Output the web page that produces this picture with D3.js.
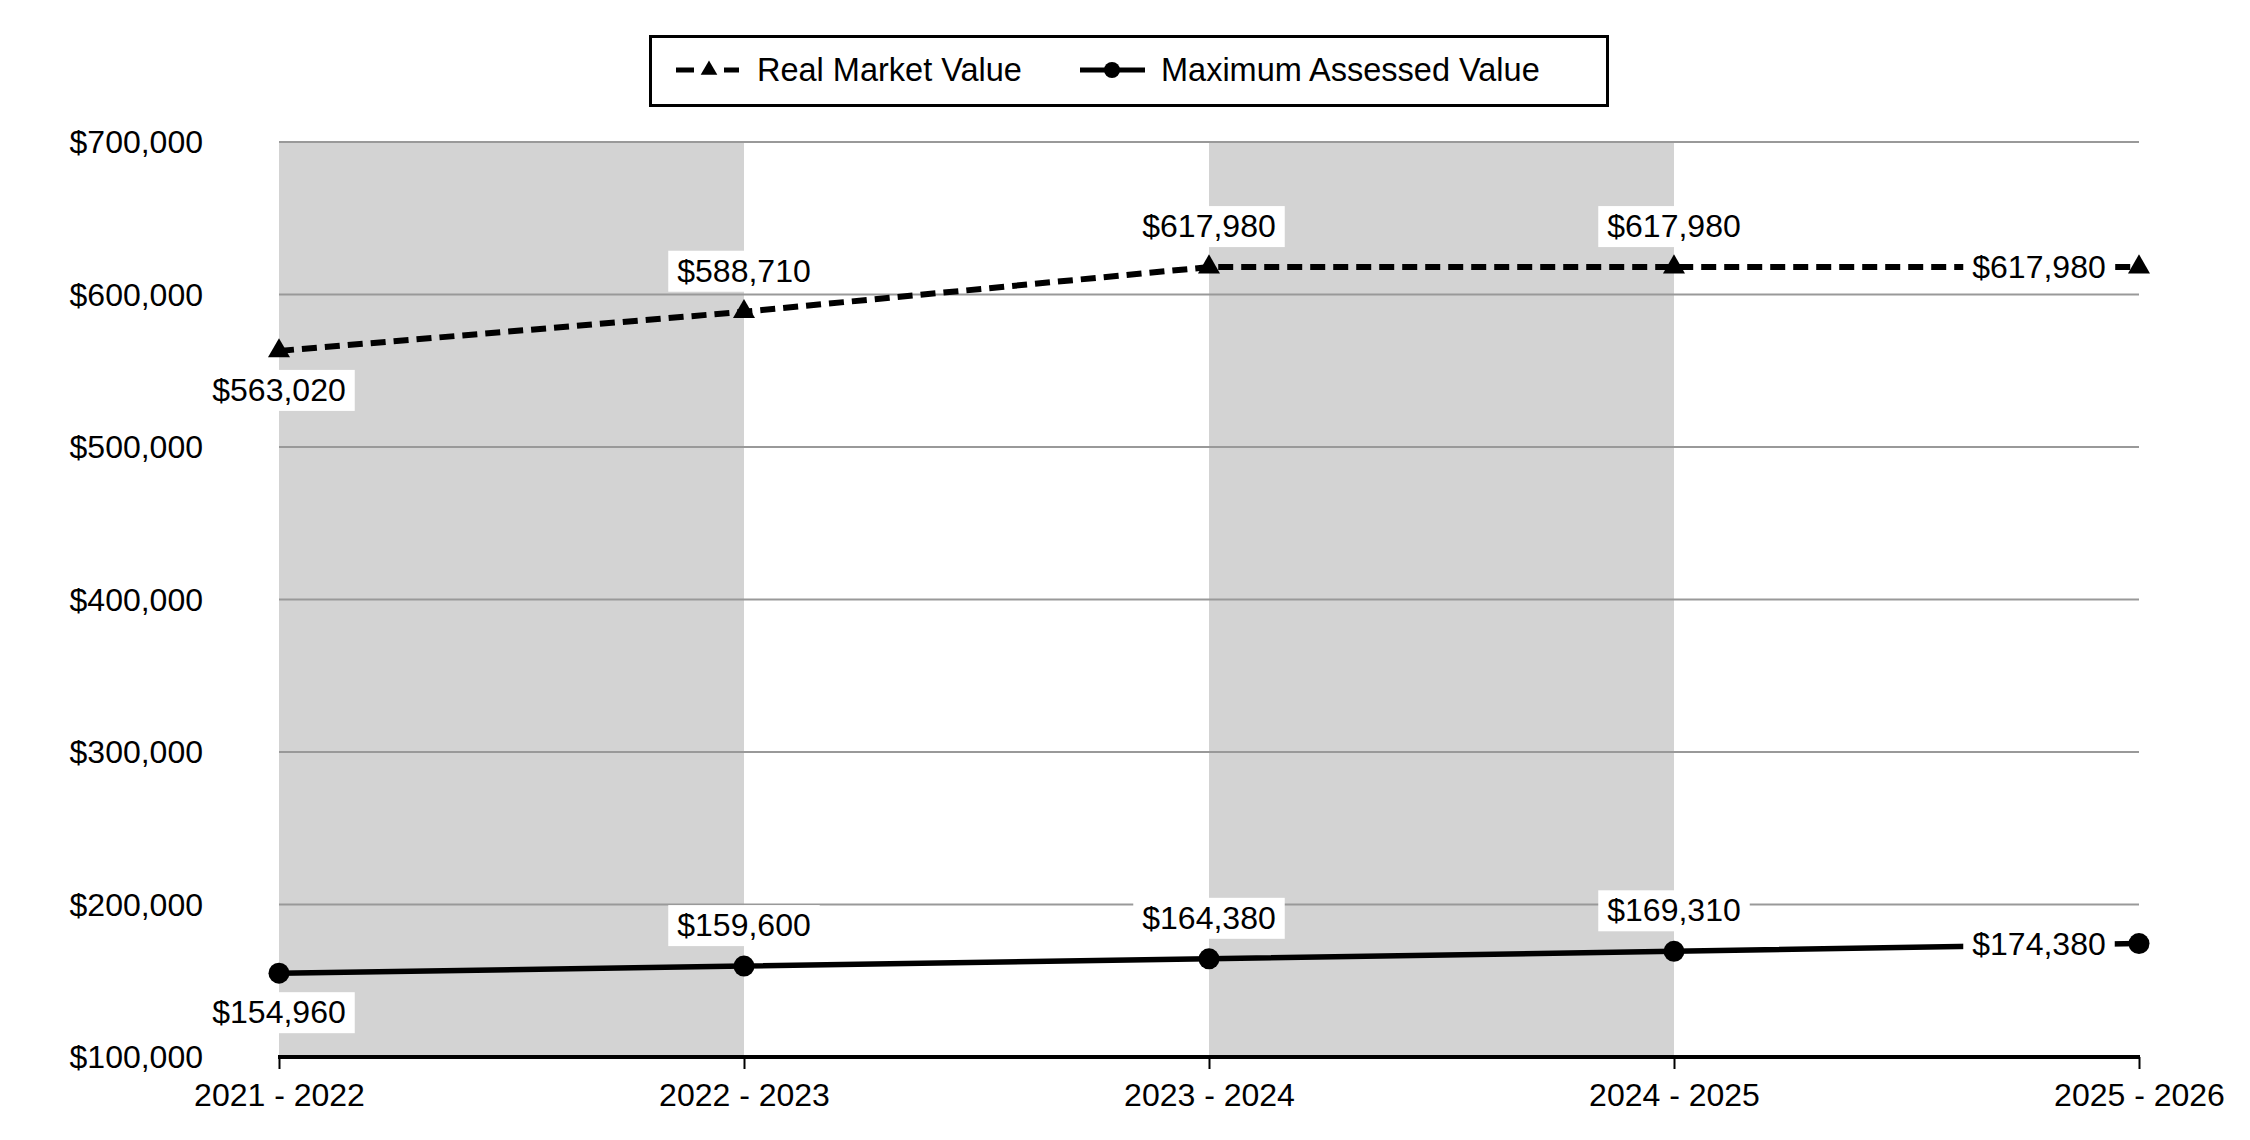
<!DOCTYPE html>
<html>
<head>
<meta charset="utf-8">
<script src="https://cdn.jsdelivr.net/npm/d3@7"></script>
<style>
  body { margin: 0; background: #fff; }
  text { font-family: "Liberation Sans", Arial, sans-serif; font-size: 32px; fill: #000; }
</style>
</head>
<body>
<div id="chart"></div>
<script>
// chart data
var years = ["2021 - 2022", "2022 - 2023", "2023 - 2024", "2024 - 2025", "2025 - 2026"];
var realMarket = [563020, 588710, 617980, 617980, 617980];
var maxAssessed = [154960, 159600, 164380, 169310, 174380];
var yTicks = [100000, 200000, 300000, 400000, 500000, 600000, 700000];
var seriesNames = ["Real Market Value", "Maximum Assessed Value"];

// where each point label sits
var labelSpots = ["below", "above", "above", "above", "left"];

var svg = d3.select("#chart").append("svg")
    .attr("width", 2250)
    .attr("height", 1140);

var x = d3.scalePoint().domain(years).range([279, 2139]);
var y = d3.scaleLinear().domain([100000, 700000]).range([1057, 142]);
var step = x.step();
var fmt = d3.format("$,");

// alternating shaded bands
svg.selectAll("rect.band")
    .data(years.slice(0, 4).filter(function (d, i) { return i % 2 == 0; }))
    .enter()
    .append("rect")
    .attr("class", "band")
    .attr("x", function (d) { return x(d); })
    .attr("y", y(700000))
    .attr("width", step)
    .attr("height", y(100000) - y(700000))
    .attr("fill", "#d3d3d3");

// gridlines
svg.selectAll("line.grid")
    .data(yTicks.slice(1))
    .enter()
    .append("line")
    .attr("class", "grid")
    .attr("x1", x(years[0]))
    .attr("x2", x(years[years.length - 1]))
    .attr("y1", function (d) { return y(d); })
    .attr("y2", function (d) { return y(d); })
    .attr("stroke", "#999")
    .attr("stroke-width", 2);

// y axis labels
svg.selectAll("text.ylab")
    .data(yTicks)
    .enter()
    .append("text")
    .attr("class", "ylab")
    .attr("x", 203)
    .attr("y", function (d) { return y(d); })
    .attr("dy", "0.35em")
    .attr("text-anchor", "end")
    .text(function (d) { return fmt(d); });

// x axis
var xAxis = svg.append("g")
    .attr("transform", "translate(0," + y(100000) + ")")
    .call(d3.axisBottom(x).tickSize(12).tickPadding(14));
xAxis.select(".domain").remove();
xAxis.selectAll(".tick line").attr("stroke", "#000").attr("stroke-width", 2);
xAxis.selectAll(".tick text")
    .style("font-family", "Liberation Sans, Arial, sans-serif")
    .style("font-size", "32px")
    .attr("fill", "#000");
svg.append("line")
    .attr("x1", x(years[0]) - 1)
    .attr("x2", x(years[years.length - 1]) + 1)
    .attr("y1", y(100000))
    .attr("y2", y(100000))
    .attr("stroke", "#000")
    .attr("stroke-width", 4);

// lines
var line = d3.line()
    .x(function (d, i) { return x(years[i]); })
    .y(function (d) { return y(d); });

svg.append("path")
    .attr("d", line(realMarket))
    .attr("fill", "none")
    .attr("stroke", "#000")
    .attr("stroke-width", 6)
    .attr("stroke-dasharray", "15,8");

svg.append("path")
    .attr("d", line(maxAssessed))
    .attr("fill", "none")
    .attr("stroke", "#000")
    .attr("stroke-width", 5.5);

// point labels with white boxes
function addLabels(values) {
    var g = svg.append("g");
    values.forEach(function (v, i) {
        var px = x(years[i]), py = y(v);
        var spot = labelSpots[i];
        var tx = px, base, boxTop;
        if (spot == "above") { base = py - 30; boxTop = py - 61; }
        else if (spot == "below") { base = py + 50; boxTop = py + 19; }
        else { tx = px - 100; base = py + 11; boxTop = py - 20; }
        var box = g.append("rect").attr("fill", "#fff");
        var t = g.append("text")
            .attr("x", tx)
            .attr("y", base)
            .attr("text-anchor", "middle")
            .text(fmt(v));
        var w = t.node().getComputedTextLength() + 18;
        box.attr("x", tx - w / 2).attr("y", boxTop).attr("width", w).attr("height", 41);
    });
}
addLabels(realMarket);
addLabels(maxAssessed);

// markers
var tri = d3.symbol().type(d3.symbolTriangle).size(210);
svg.selectAll("path.tri")
    .data(realMarket)
    .enter()
    .append("path")
    .attr("class", "tri")
    .attr("d", tri)
    .attr("transform", function (d, i) { return "translate(" + x(years[i]) + "," + y(d) + ")"; })
    .attr("fill", "#000");

svg.selectAll("circle.dot")
    .data(maxAssessed)
    .enter()
    .append("circle")
    .attr("class", "dot")
    .attr("cx", function (d, i) { return x(years[i]); })
    .attr("cy", function (d) { return y(d); })
    .attr("r", 10.5)
    .attr("fill", "#000");

// legend
var legend = svg.append("g");
legend.append("rect")
    .attr("x", 650.5)
    .attr("y", 36.5)
    .attr("width", 957)
    .attr("height", 69)
    .attr("fill", "#fff")
    .attr("stroke", "#000")
    .attr("stroke-width", 3);

legend.append("line")
    .attr("x1", 676).attr("x2", 694)
    .attr("y1", 70).attr("y2", 70)
    .attr("stroke", "#000").attr("stroke-width", 5);
legend.append("line")
    .attr("x1", 724).attr("x2", 739)
    .attr("y1", 70).attr("y2", 70)
    .attr("stroke", "#000").attr("stroke-width", 5);
legend.append("path")
    .attr("d", d3.symbol().type(d3.symbolTriangle).size(120))
    .attr("transform", "translate(709,70)")
    .attr("fill", "#000");
legend.append("text")
    .attr("x", 757).attr("y", 81)
    .style("font-size", "32.5px")
    .text(seriesNames[0]);

legend.append("line")
    .attr("x1", 1080).attr("x2", 1145)
    .attr("y1", 70).attr("y2", 70)
    .attr("stroke", "#000").attr("stroke-width", 5);
legend.append("circle")
    .attr("cx", 1112).attr("cy", 70).attr("r", 8)
    .attr("fill", "#000");
legend.append("text")
    .attr("x", 1161).attr("y", 81)
    .style("font-size", "32.5px")
    .text(seriesNames[1]);
</script>
</body>
</html>
